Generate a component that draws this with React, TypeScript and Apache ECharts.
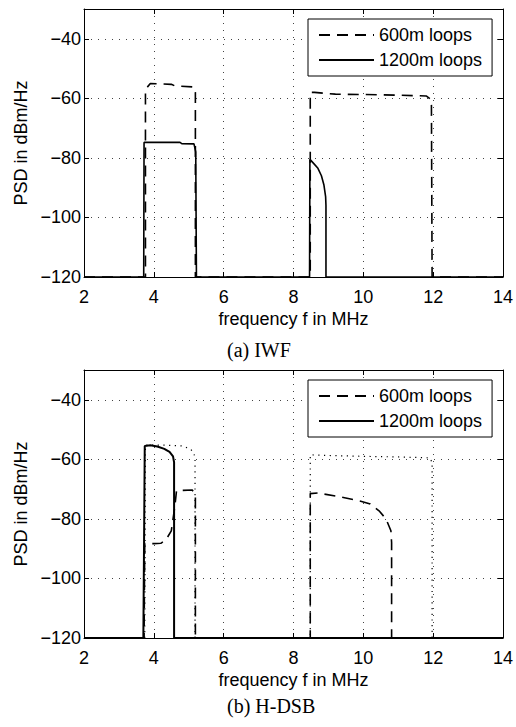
import React, { useEffect, useRef } from "react";
import * as echarts from "echarts";

// ---- data (frequency in MHz, PSD in dBm/Hz) ----
const xTicks = [2, 4, 6, 8, 10, 12, 14];
const yTicks = [-120, -100, -80, -60, -40];

// (a) IWF
const iwf600Freq = [2, 3.76, 3.76, 3.9, 4.5, 4.6, 5.15, 5.19, 5.19, 8.48, 8.48, 8.6, 9.2, 10.5, 11.8, 11.95, 11.97, 14];
const iwf600Psd = [-120, -120, -57, -55, -55.3, -55.8, -56.2, -58, -120, -120, -58, -58, -58.6, -58.8, -59.2, -60.5, -120, -120];
const iwf1200Freq = [2, 3.71, 3.72, 3.8, 4.75, 4.8, 5.15, 5.2, 5.22, 8.46, 8.47, 8.55, 8.7, 8.8, 8.87, 8.92, 8.93, 8.93, 14];
const iwf1200Psd = [-120, -120, -74.8, -74.8, -74.8, -75.2, -75.3, -78, -120, -120, -80.5, -81.5, -83.5, -86, -89, -93, -96, -120, -120];

// (b) H-DSB
const dsb600Freq = [2, 3.72, 3.74, 4.0, 4.2, 4.35, 4.5, 4.6, 4.65, 5.1, 5.19, 5.19, 8.48, 8.48, 8.7, 9.3, 9.9, 10.2, 10.45, 10.65, 10.79, 10.81, 10.81, 14];
const dsb600Psd = [-120, -120, -88.3, -88.3, -88.2, -87, -84, -76, -70.5, -70.3, -72, -120, -120, -71.5, -71.3, -72.5, -74, -75, -77.3, -80, -84, -88, -120, -120];
const dsb1200Freq = [2, 3.7, 3.74, 3.9, 4.1, 4.3, 4.45, 4.55, 4.58, 4.58, 14];
const dsb1200Psd = [-120, -120, -55.5, -55.3, -55.7, -56.5, -57.5, -59, -61, -120, -120];
const dsbMaskFreq = [3.74, 3.76, 4.3, 4.8, 5.05, 5.15, 5.18, 5.18, 8.48, 8.48, 9, 10, 11, 11.9, 11.97, 11.97];
const dsbMaskPsd = [-120, -55.2, -55.2, -55.5, -56.5, -58, -60, -120, -120, -58.5, -58.7, -59, -59.2, -59.5, -61, -120];

const seriesNames = ["600m loops", "1200m loops"];
const captions = ["(a) IWF", "(b) H-DSB"];

const zip = (xs: number[], ys: number[]) => xs.map((x, i) => [x, ys[i]]);

const FONT = "Liberation Sans, Arial, sans-serif";
const gridTops = [9, 370];
const GRID_LEFT = 84;
const GRID_W = 420;
const GRID_H = 268;

export default function App() {
  const ref = useRef<HTMLDivElement>(null);
  useEffect(() => {
    if (!ref.current) return;
    const chart = echarts.init(ref.current, undefined, { renderer: "svg" });

    const grids = gridTops.map((t) => ({ left: GRID_LEFT, top: t, width: GRID_W, height: GRID_H, containLabel: false }));
    const xAxes: any[] = [];
    const yAxes: any[] = [];
    gridTops.forEach((_, gi) => {
      xAxes.push({
        type: "value", gridIndex: gi, min: xTicks[0], max: xTicks[xTicks.length - 1], interval: 2,
        position: "bottom",
        name: "frequency f in MHz", nameLocation: "middle", nameGap: 33,
        nameTextStyle: { fontFamily: FONT, fontSize: 18, color: "#000" },
        axisLine: { show: true, lineStyle: { color: "#000", width: 1 } },
        axisTick: { show: true, inside: true, length: 5, lineStyle: { color: "#000" } },
        axisLabel: { fontFamily: FONT, fontSize: 18, color: "#000", margin: 11 },
        splitLine: { show: true, lineStyle: { color: "#444", width: 1, type: [1, 6] } },
      });
      xAxes.push({
        type: "value", gridIndex: gi, min: xTicks[0], max: xTicks[xTicks.length - 1], interval: 2,
        position: "top",
        axisLine: { show: true, lineStyle: { color: "#000", width: 1 } },
        axisTick: { show: true, inside: true, length: 5, lineStyle: { color: "#000" } },
        axisLabel: { show: false },
        splitLine: { show: false },
      });
      yAxes.push({
        type: "value", gridIndex: gi, min: -120, max: -30, interval: 20,
        position: "left",
        name: "PSD in dBm/Hz", nameLocation: "middle", nameGap: 52,
        nameTextStyle: { fontFamily: FONT, fontSize: 18, color: "#000" },
        axisLine: { show: true, lineStyle: { color: "#000", width: 1 } },
        axisTick: { show: true, inside: true, length: 5, lineStyle: { color: "#000" } },
        axisLabel: {
          fontFamily: FONT, fontSize: 18, color: "#000", margin: 3, showMaxLabel: false,
          formatter: (v: number) => (v === -30 ? "" : String(v).replace("-", "\u2212")),
        },
        splitLine: { show: true, lineStyle: { color: "#444", width: 1, type: [1, 6] } },
      });
      yAxes.push({
        type: "value", gridIndex: gi, min: -120, max: -30, interval: 20,
        position: "right",
        axisLine: { show: true, lineStyle: { color: "#000", width: 1 } },
        axisTick: { show: true, inside: true, length: 5, lineStyle: { color: "#000" } },
        axisLabel: { show: false },
        splitLine: { show: false },
      });
    });

    const mk = (name: string, gi: number, data: number[][], type: any, width: number) => ({
      name, type: "line", xAxisIndex: gi * 2, yAxisIndex: gi * 2, data,
      showSymbol: false, symbol: "none", clip: false, silent: true,
      lineStyle: { color: "#000", width, type },
      itemStyle: { color: "#000" },
    });

    const series = [
      mk(seriesNames[0], 0, zip(iwf600Freq, iwf600Psd), [11, 7], 1.6),
      mk(seriesNames[1], 0, zip(iwf1200Freq, iwf1200Psd), "solid", 1.6),
      mk("mask", 1, zip(dsbMaskFreq, dsbMaskPsd), [1.2, 4.5], 1.2),
      mk(seriesNames[0], 1, zip(dsb600Freq, dsb600Psd), [11, 7], 1.6),
      mk(seriesNames[1], 1, zip(dsb1200Freq, dsb1200Psd), "solid", 2),
    ];

    const legends = gridTops.map((t, gi) => ({
      data: seriesNames,
      orient: "vertical",
      left: 308,
      top: gi === 0 ? 19 : 380,
      padding: [7, 10, 7, 10],
      itemWidth: 55,
      itemHeight: 14,
      itemGap: 7,
      itemStyle: { opacity: 0 },
      borderColor: "#000",
      borderWidth: 1,
      backgroundColor: "#fff",
      selectedMode: false,
      textStyle: { fontFamily: FONT, fontSize: 18, color: "#000" },
    }));

    chart.setOption({
      animation: false,
      backgroundColor: "#fff",
      grid: grids,
      xAxis: xAxes,
      yAxis: yAxes,
      legend: legends,
      series,
      graphic: [
        { type: "text", left: 227, top: 340, style: { text: captions[0], font: "20px 'Liberation Serif', 'Times New Roman', serif", fill: "#000" } },
        { type: "text", left: 227, top: 696, style: { text: captions[1], font: "20px 'Liberation Serif', 'Times New Roman', serif", fill: "#000" } },
      ],
    });
    return () => chart.dispose();
  }, []);
  return <div ref={ref} style={{ position: "absolute", left: 0, top: 0, width: 516, height: 727 }} />;
}
